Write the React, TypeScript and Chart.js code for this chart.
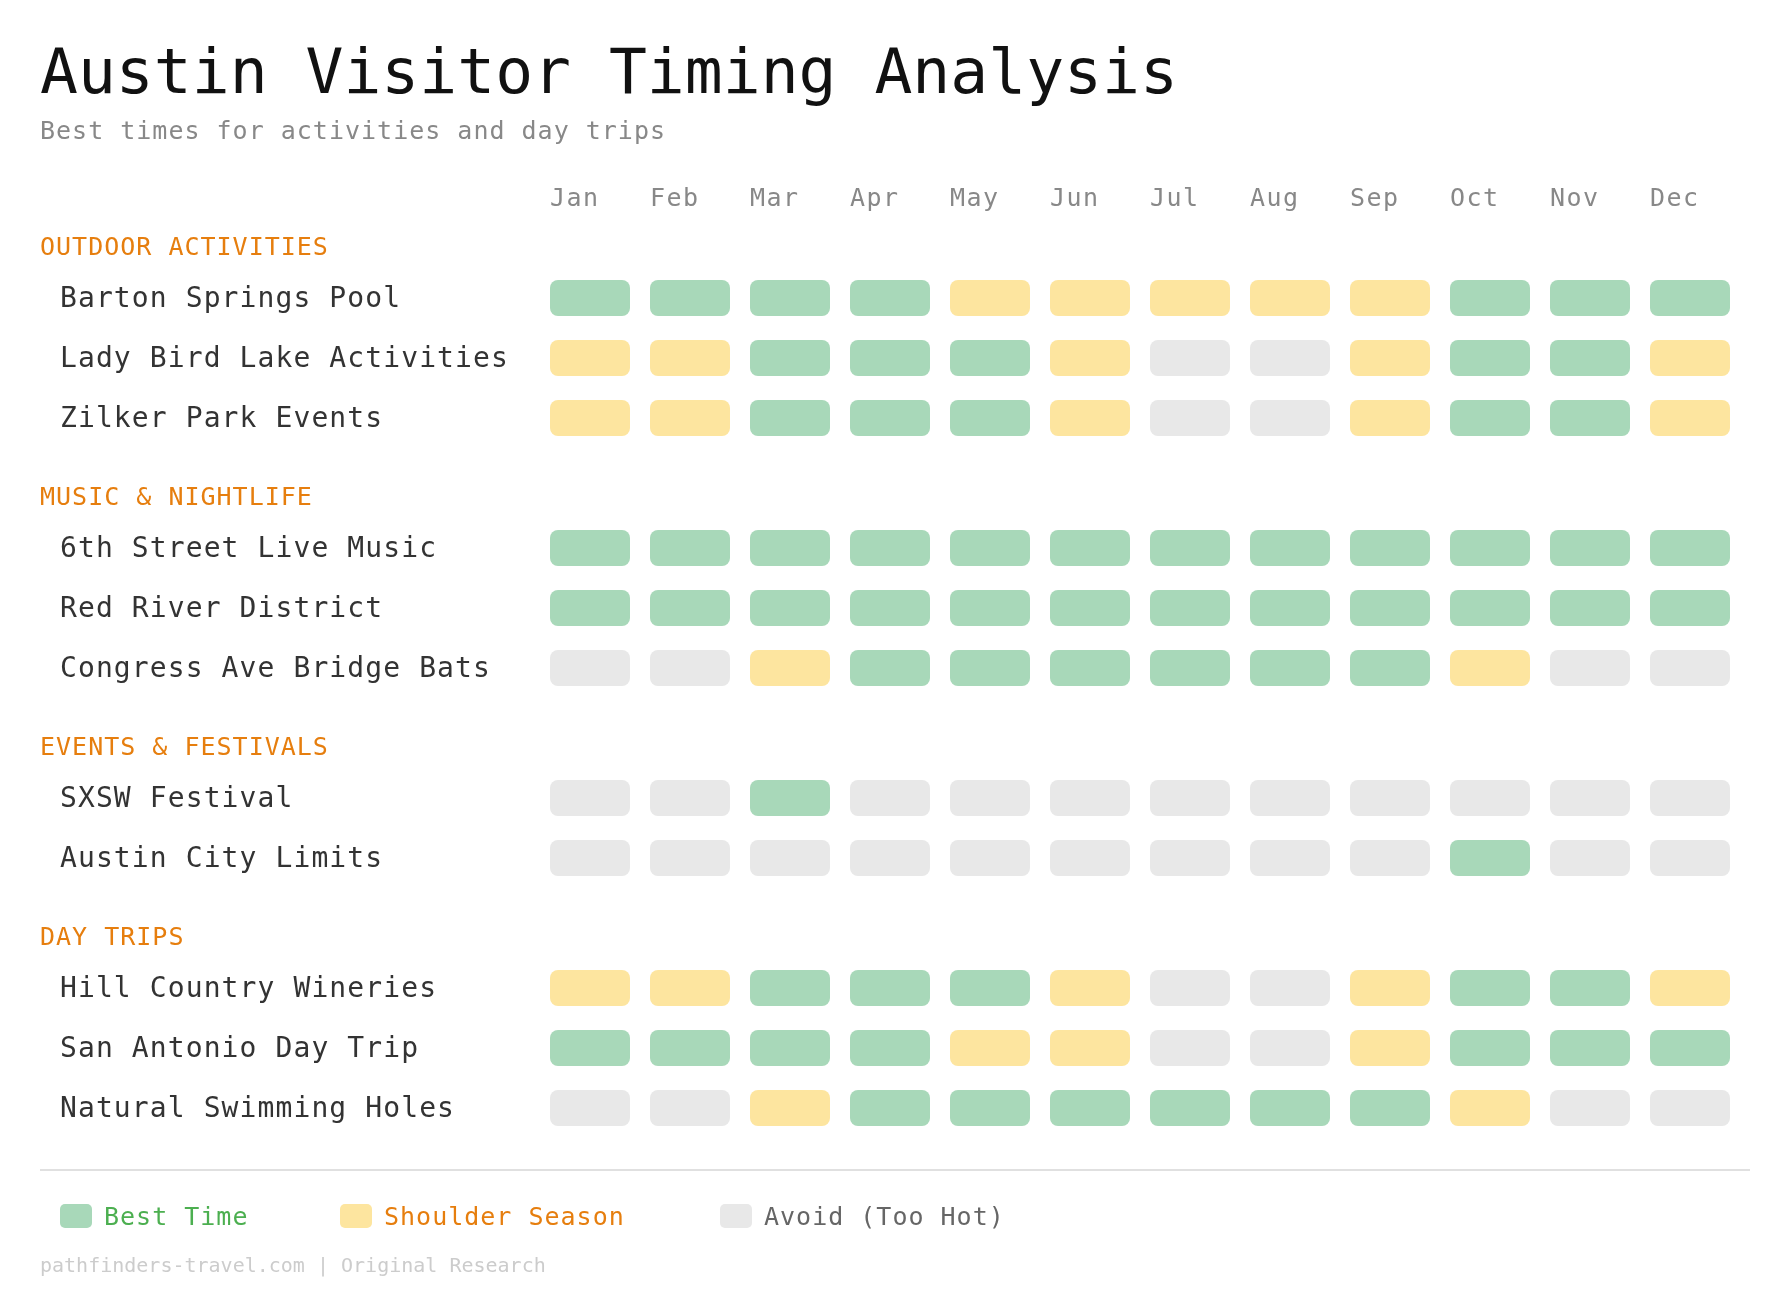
import React, { useEffect, useRef } from "react";
import { Chart, registerables } from "chart.js";

Chart.register(...registerables);

// ---------- data ----------
const months = ["Jan", "Feb", "Mar", "Apr", "May", "Jun", "Jul", "Aug", "Sep", "Oct", "Nov", "Dec"];

const sections = ["OUTDOOR ACTIVITIES", "MUSIC & NIGHTLIFE", "EVENTS & FESTIVALS", "DAY TRIPS"];

const activities = [
  "Barton Springs Pool",
  "Lady Bird Lake Activities",
  "Zilker Park Events",
  "6th Street Live Music",
  "Red River District",
  "Congress Ave Bridge Bats",
  "SXSW Festival",
  "Austin City Limits",
  "Hill Country Wineries",
  "San Antonio Day Trip",
  "Natural Swimming Holes",
];

// section index of each activity
const activitySection = [0, 0, 0, 1, 1, 1, 2, 2, 3, 3, 3];

// B = Best Time, S = Shoulder Season, A = Avoid (Too Hot)
const bartonSprings = ["B", "B", "B", "B", "S", "S", "S", "S", "S", "B", "B", "B"];
const ladyBirdLake = ["S", "S", "B", "B", "B", "S", "A", "A", "S", "B", "B", "S"];
const zilkerPark = ["S", "S", "B", "B", "B", "S", "A", "A", "S", "B", "B", "S"];
const sixthStreet = ["B", "B", "B", "B", "B", "B", "B", "B", "B", "B", "B", "B"];
const redRiver = ["B", "B", "B", "B", "B", "B", "B", "B", "B", "B", "B", "B"];
const bridgeBats = ["A", "A", "S", "B", "B", "B", "B", "B", "B", "S", "A", "A"];
const sxsw = ["A", "A", "B", "A", "A", "A", "A", "A", "A", "A", "A", "A"];
const acl = ["A", "A", "A", "A", "A", "A", "A", "A", "A", "B", "A", "A"];
const hillCountry = ["S", "S", "B", "B", "B", "S", "A", "A", "S", "B", "B", "S"];
const sanAntonio = ["B", "B", "B", "B", "S", "S", "A", "A", "S", "B", "B", "B"];
const swimmingHoles = ["A", "A", "S", "B", "B", "B", "B", "B", "B", "S", "A", "A"];

const statusRows = [
  bartonSprings, ladyBirdLake, zilkerPark,
  sixthStreet, redRiver, bridgeBats,
  sxsw, acl,
  hillCountry, sanAntonio, swimmingHoles,
];

const legendLabels = ["Best Time", "Shoulder Season", "Avoid (Too Hot)"];

// ---------- styles ----------
const FONT = "'DejaVu Sans Mono', monospace";
const statusColor: Record<string, string> = { B: "#a8d8b9", S: "#fde59f", A: "#e8e8e8" };
const legendSwatch = ["#a8d8b9", "#fde59f", "#e8e8e8"];
const legendText = ["#4caf50", "#e67e0e", "#666666"];
const legendLeft = [60, 340, 720];
const ORANGE = "#e67e0e";

// layout (row units: 1 unit = row pitch)
const SECTION_GAP = 70 / 60;
const HEADER_OFFSET = 50 / 60;
const CELL_HALF = 0.3;

const rowValue = (i: number) => i + activitySection[i] * SECTION_GAP;

const rowLabelPlugin = {
  id: "rowLabels",
  afterDraw(chart: any) {
    const { ctx } = chart;
    const y = chart.scales.y;
    ctx.save();
    ctx.textBaseline = "middle";
    ctx.textAlign = "left";
    try { ctx.letterSpacing = "1px"; } catch (e) {}
    sections.forEach((name, s) => {
      const first = activitySection.indexOf(s);
      const v = rowValue(first) - HEADER_OFFSET;
      ctx.font = `25px ${FONT}`;
      ctx.fillStyle = ORANGE;
      ctx.fillText(name, 40, y.getPixelForValue(v));
    });
    try { ctx.letterSpacing = "1.1px"; } catch (e) {}
    activities.forEach((name, i) => {
      ctx.font = `28px ${FONT}`;
      ctx.fillStyle = "#333333";
      ctx.fillText(name, 60, y.getPixelForValue(rowValue(i)) + 2);
    });
    ctx.restore();
  },
};

const spacingPlugin = {
  id: "spacing",
  beforeDraw(chart: any) {
    try { chart.ctx.letterSpacing = "1.5px"; } catch (e) {}
  },
};

export default function App() {
  const ref = useRef<HTMLCanvasElement | null>(null);

  useEffect(() => {
    if (!ref.current) return;
    const datasets = activities.map((name, i) => {
      const v = rowValue(i);
      return {
        label: name,
        data: months.map(() => [v - CELL_HALF, v + CELL_HALF]),
        backgroundColor: statusRows[i].map((s) => statusColor[s]),
        borderRadius: 8,
        borderSkipped: false,
        borderWidth: 0,
        grouped: false,
        barPercentage: 0.8,
        categoryPercentage: 1.0,
      };
    });
    const chart = new Chart(ref.current, {
      type: "bar",
      data: { labels: months, datasets: datasets as any },
      plugins: [spacingPlugin, rowLabelPlugin],
      options: {
        responsive: false,
        animation: false,
        events: [],
        layout: { padding: { left: 540, right: 50, top: 160, bottom: 144 } },
        plugins: {
          legend: { display: false },
          tooltip: { enabled: false },
          title: { display: false },
        },
        scales: {
          x: {
            type: "category",
            position: "top",
            grid: { display: false, drawTicks: false },
            border: { display: false },
            ticks: {
              align: "start",
              labelOffset: -40,
              padding: 6,
              color: "#888888",
              maxRotation: 0,
              autoSkip: false,
              font: { family: FONT, size: 25 },
            },
            afterFit: (s: any) => { s.height = 60; },
          },
          y: {
            type: "linear",
            display: false,
            reverse: true,
            min: -1.3,
            max: 14.3,
          },
        },
      } as any,
    });
    return () => chart.destroy();
  }, []);

  return (
    <div style={{ position: "absolute", left: 0, top: 0, width: 1790, height: 1300, background: "#fff", fontFamily: FONT }}>
      <canvas ref={ref} width={1790} height={1300} style={{ position: "absolute", left: 0, top: 0, width: 1790, height: 1300 }} />
      <div style={{ position: "absolute", left: 40, top: 40, fontSize: 63, lineHeight: 1, color: "#111", whiteSpace: "nowrap" }}>
        Austin Visitor Timing Analysis
      </div>
      <div style={{ position: "absolute", left: 40, top: 118, fontSize: 25, lineHeight: 1, letterSpacing: 1, color: "#888", whiteSpace: "nowrap" }}>
        Best times for activities and day trips
      </div>
      <div style={{ position: "absolute", left: 40, top: 1169, width: 1710, height: 2, background: "#e0e0e0" }} />
      {legendLabels.map((t, i) => (
        <div key={t} style={{ position: "absolute", left: legendLeft[i], top: 1204, display: "flex", alignItems: "center", whiteSpace: "nowrap" }}>
          <div style={{ width: 32, height: 24, borderRadius: 5, background: legendSwatch[i], marginRight: 12 }} />
          <span style={{ fontSize: 25, lineHeight: "24px", letterSpacing: 1, color: legendText[i], position: "relative", top: 1 }}>{t}</span>
        </div>
      ))}
      <div style={{ position: "absolute", left: 40, top: 1255, fontSize: 20, lineHeight: 1, color: "#cccccc", whiteSpace: "nowrap" }}>
        pathfinders-travel.com | Original Research
      </div>
    </div>
  );
}
